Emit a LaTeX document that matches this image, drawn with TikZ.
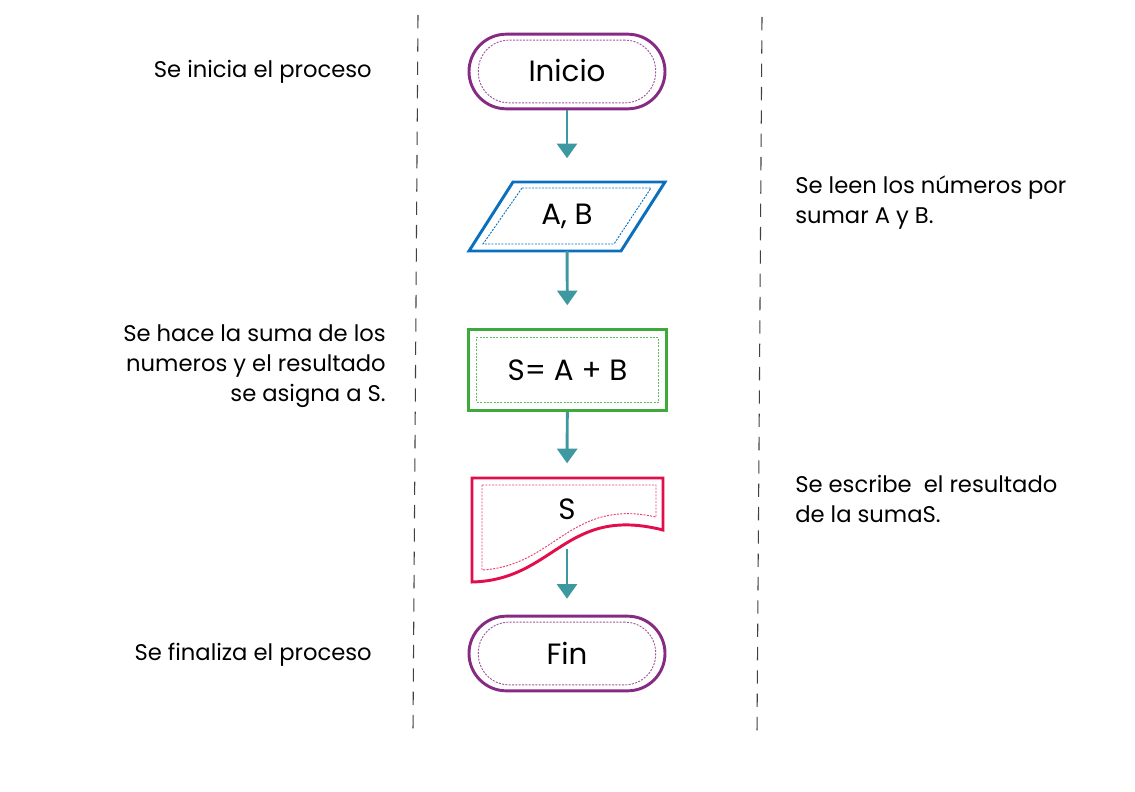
\documentclass[tikz,border=0pt]{standalone}
\usepackage{fontspec}
\setmainfont{Poppins}
\usepackage{tikz}
\usetikzlibrary{arrows.meta, positioning, calc}

\definecolor{morado}{RGB}{134,42,132}
\definecolor{azul}{RGB}{10,112,190}
\definecolor{verde}{RGB}{62,170,60}
\definecolor{rojo}{RGB}{226,14,76}
\definecolor{flujo}{RGB}{62,152,160}

\begin{document}
\begin{tikzpicture}[x=0.75pt, y=-0.75pt,
    flecha/.style={draw=flujo, line width=2.2pt, -{Triangle[width=15pt, length=11pt]}},
    nota/.style={font=\fontsize{17}{22.5}\selectfont, inner sep=0pt},
    texto/.style={font=\fontsize{22}{26}\selectfont, inner sep=0pt},
    terminal/.style={texto, draw=morado, line width=2.2pt, rounded corners=28pt,
        minimum width=147pt, minimum height=56pt},
    borde/.style={line width=0.7pt, dash pattern=on 1.5pt off 1pt},
    guia/.style={draw=black!75, line width=0.8pt, dash pattern=on 10pt off 7.5pt}]
    \useasboundingbox (0,0) rectangle (1135,792);

    % columnas
    \draw[guia] (418,15) -- (413,730);
    \draw[guia] (762,17) -- (757,732);

    % inicio
    \node[terminal] (inicio) at (567,71.5) {};
    \node[borde, draw=morado!80, rounded corners=23pt, minimum width=133pt,
        minimum height=47pt] (inicio-in) at (inicio) {};
    \node[texto] (inicio-txt) at (567,70) {Inicio};

    % lectura
    \draw[azul, line width=2.2pt] (513,182) -- (665,182) -- (621,251) -- (469,251) -- cycle;
    \draw[azul, borde] (522,188) -- (651,188) -- (614,244) -- (483,244) -- cycle;
    \node[texto, minimum height=51pt] (ab) at (567,216.5) {A, B};

    % proceso
    \node[texto, draw=verde, line width=2.2pt, minimum width=149pt, minimum height=61pt]
        (suma) at (567.5,370) {S= A + B};
    \node[borde, draw=verde!80, minimum width=136pt, minimum height=49pt]
        (suma-in) at (suma) {};

    % salida
    \draw[rojo, line width=2.2pt] (472,478) -- (663,478) -- (663,530)
        .. controls (565,505) and (555,580) .. (472,582) -- cycle;
    \draw[rojo!80, borde] (482,485) -- (656,485) -- (656,517)
        .. controls (570,498) and (555,566) .. (482,570) -- cycle;
    \node[texto, minimum height=30pt] (salida) at (567,509) {S};
    \coordinate (salida-borde) at (567,549);

    % fin
    \node[terminal] (fin) at (567,653.5) {};
    \node[borde, draw=morado!80, rounded corners=23pt, minimum width=133pt,
        minimum height=47pt] (fin-in) at (fin) {};
    \node[texto] (fin-txt) at (567,653) {Fin};

    % conectores
    \draw[flecha, shorten >=18pt] (inicio) -- (ab);
    \draw[flecha, shorten >=17pt] (ab) -- (suma);
    \draw[flecha, shorten >=11pt] (suma) -- (567,478);
    \draw[flecha, shorten >=12pt] (salida-borde) -- (fin);

    % notas
    \node[nota, anchor=east] (n-inicio) at (372,72) {Se inicia el proceso};
    \node[nota, anchor=west, align=left] (n-leer) at (795,203)
        {Se leen los números por\\sumar A y B.};
    \node[nota, anchor=east, align=right] (n-suma) at (386,366)
        {Se hace la suma de los\\numeros y el resultado\\se asigna a S.};
    \node[nota, anchor=west, align=left] (n-salida) at (795,498.5)
        {Se escribe\ \ el resultado\\de la sumaS.};
    \node[nota, anchor=east] (n-fin) at (372,655) {Se finaliza el proceso};
\end{tikzpicture}
\end{document}
